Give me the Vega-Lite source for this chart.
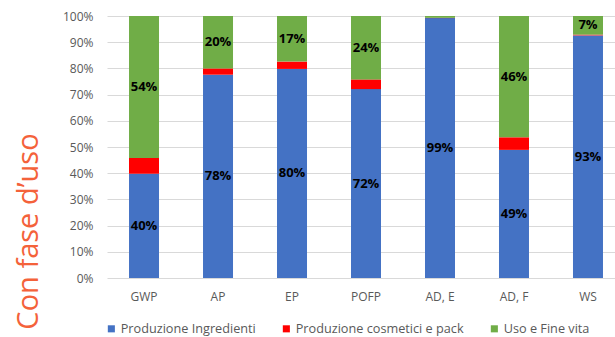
{
  "$schema": "https://vega.github.io/schema/vega-lite/v6.json",
  "autosize": "none",
  "padding": {"left": 107, "top": 16, "right": 0, "bottom": 59},
  "width": 508,
  "height": 262,
  "background": "white",
  "config": {
    "font": "Open Sans",
    "view": {"stroke": null},
    "axisY": {
      "title": "Con fase d’uso",
      "titleColor": "#F4623A",
      "titleFontSize": 29,
      "titleFontWeight": "normal",
      "titleAngle": -90,
      "titleX": -79,
      "titleY": 215,
      "titleAlign": "center",
      "titleBaseline": "middle",
      "format": ".0%",
      "tickCount": 10,
      "labelOverlap": false,
      "labelFlush": false,
      "ticks": false,
      "domain": false,
      "labelColor": "#595959",
      "labelFontSize": 12,
      "labelPadding": 14,
      "gridColor": "#d9d9d9",
      "gridWidth": 1
    }
  },
  "data": {
    "values": [
      {"cat": "GWP", "serie": "Produzione Ingredienti", "ord": 1, "value": 0.398},
      {"cat": "GWP", "serie": "Produzione cosmetici e pack", "ord": 2, "value": 0.060},
      {"cat": "GWP", "serie": "Uso e Fine vita", "ord": 3, "value": 0.542},
      {"cat": "AP", "serie": "Produzione Ingredienti", "ord": 1, "value": 0.776},
      {"cat": "AP", "serie": "Produzione cosmetici e pack", "ord": 2, "value": 0.024},
      {"cat": "AP", "serie": "Uso e Fine vita", "ord": 3, "value": 0.200},
      {"cat": "EP", "serie": "Produzione Ingredienti", "ord": 1, "value": 0.798},
      {"cat": "EP", "serie": "Produzione cosmetici e pack", "ord": 2, "value": 0.028},
      {"cat": "EP", "serie": "Uso e Fine vita", "ord": 3, "value": 0.174},
      {"cat": "POFP", "serie": "Produzione Ingredienti", "ord": 1, "value": 0.721},
      {"cat": "POFP", "serie": "Produzione cosmetici e pack", "ord": 2, "value": 0.037},
      {"cat": "POFP", "serie": "Uso e Fine vita", "ord": 3, "value": 0.242},
      {"cat": "AD, E", "serie": "Produzione Ingredienti", "ord": 1, "value": 0.992},
      {"cat": "AD, E", "serie": "Produzione cosmetici e pack", "ord": 2, "value": 0.001},
      {"cat": "AD, E", "serie": "Uso e Fine vita", "ord": 3, "value": 0.007},
      {"cat": "AD, F", "serie": "Produzione Ingredienti", "ord": 1, "value": 0.489},
      {"cat": "AD, F", "serie": "Produzione cosmetici e pack", "ord": 2, "value": 0.048},
      {"cat": "AD, F", "serie": "Uso e Fine vita", "ord": 3, "value": 0.463},
      {"cat": "WS", "serie": "Produzione Ingredienti", "ord": 1, "value": 0.926},
      {"cat": "WS", "serie": "Produzione cosmetici e pack", "ord": 2, "value": 0.003},
      {"cat": "WS", "serie": "Uso e Fine vita", "ord": 3, "value": 0.071}
    ]
  },
  "transform": [
    {"stack": "value", "groupby": ["cat"], "sort": [{"field": "ord"}], "as": ["v0", "v1"]},
    {"calculate": "(datum.v0 + datum.v1) / 2", "as": "mid"}
  ],
  "encoding": {
    "x": {
      "field": "cat",
      "type": "nominal",
      "sort": ["GWP", "AP", "EP", "POFP", "AD, E", "AD, F", "WS"],
      "scale": {"paddingInner": 0.5946, "paddingOuter": 0.23, "align": 0.647},
      "axis": {
        "title": null,
        "labelAngle": 0,
        "ticks": false,
        "domain": false,
        "labelColor": "#595959",
        "labelFontSize": 12,
        "labelPadding": 13
      }
    }
  },
  "layer": [
    {
      "mark": {"type": "bar"},
      "encoding": {
        "y": {
          "field": "v0",
          "type": "quantitative",
          "scale": {"domain": [0, 1]},
          "title": "Con fase d’uso"
        },
        "y2": {"field": "v1"},
        "color": {
          "field": "serie",
          "type": "nominal",
          "scale": {
            "domain": ["Produzione Ingredienti", "Produzione cosmetici e pack", "Uso e Fine vita"],
            "range": ["#4472C4", "#FF0000", "#70AD47"]
          },
          "legend": {
            "title": null,
            "orient": "none",
            "direction": "horizontal",
            "legendX": -2,
            "legendY": 306,
            "padding": 0,
            "symbolType": "square",
            "symbolSize": 50,
            "symbolStrokeWidth": 0,
            "labelFontSize": 12.7,
            "labelColor": "#595959",
            "labelOffset": 3,
            "labelLimit": 400,
            "columnPadding": 24
          }
        }
      }
    },
    {
      "transform": [
        {"filter": "datum.ord != 2 && datum.value >= 0.05"}
      ],
      "mark": {"type": "text", "fontWeight": "bold", "fontSize": 13, "color": "black", "baseline": "middle"},
      "encoding": {
        "y": {"field": "mid", "type": "quantitative", "title": "Con fase d’uso"},
        "text": {"field": "value", "type": "quantitative", "format": ".0%"}
      }
    }
  ]
}
